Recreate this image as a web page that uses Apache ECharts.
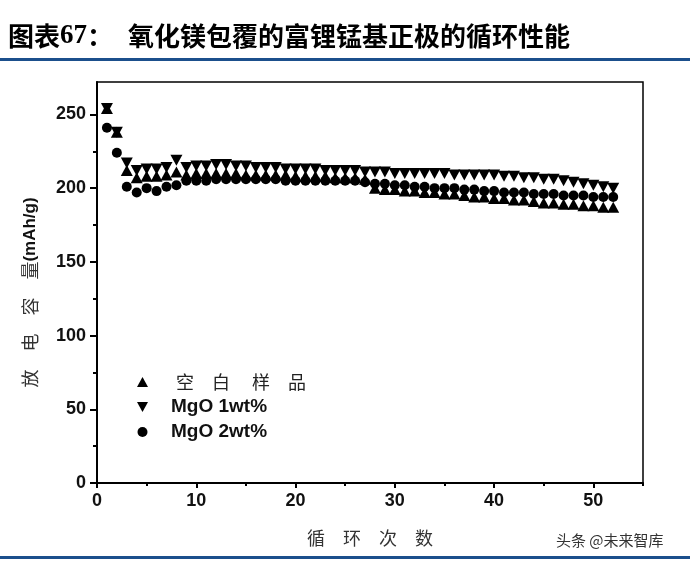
<!DOCTYPE html>
<html>
<head>
<meta charset="utf-8">
<script src="https://cdn.jsdelivr.net/npm/echarts@6/dist/echarts.min.js"></script>
<style>
html,body{margin:0;padding:0;background:#fff;}
#chart{width:700px;height:567px;}
</style>
</head>
<body>
<div id="chart"></div>
<script>
// ---- data ----
const cycles = [1,2,3,4,5,6,7,8,9,10,11,12,13,14,15,16,17,18,19,20,21,22,23,24,25,26,
  27,28,29,30,31,32,33,34,35,36,37,38,39,40,41,42,43,44,45,46,47,48,49,50,51,52];
const blank = [254,238,212,207,208,208,209,211,209,210,
  210,210,210,210,209,209,209,209,209,208,
  208,208,208,207,207,207,206,200,199,199,
  198,198,197,197,196,196,195,194,194,193,
  193,192,192,191,190,190,189,189,188,188,187,187];
const mgo1 = [254,238,217,212,213,213,214,219,214,215,
  215,216,216,215,215,214,214,214,213,213,
  213,213,212,212,212,212,211,211,211,210,
  210,210,210,210,210,209,209,209,209,209,
  208,208,207,207,206,206,205,204,203,202,201,200];
const mgo2 = [241,224,201,197,200,198,201,202,205,205,
  205,206,206,206,206,206,206,206,205,205,
  205,205,205,205,205,205,204,203,203,202,
  202,201,201,200,200,200,199,199,198,198,
  197,197,197,196,196,196,195,195,195,194,194,194];
const seriesNames = ['空白样品', 'MgO 1wt%', 'MgO 2wt%'];
const xMajorTicks = [0,10,20,30,40,50];
const xMinorTicks = [5,15,25,35,45,55];
const yMajorTicks = [0,50,100,150,200,250];
const yMinorTicks = [25,75,125,175,225];

const zip = (xs, ys) => xs.map((x, i) => [x, ys[i]]);

const labelStyle = {fontFamily:'Liberation Sans', fontWeight:'bold', fontSize:18, color:'#111'};
const downTri = 'path://M0,0L10,0L5,9Z';
const markStyle = {color:'#000', opacity:1};

const chart = echarts.init(document.getElementById('chart'), null, {renderer:'canvas'});
chart.setOption({
  animation:false,
  backgroundColor:'#fff',
  grid:{left:97, right:57, top:82, bottom:84, show:true, borderColor:'#000', borderWidth:1.5},
  xAxis:[{
    type:'value', min:0, max:55,
    axisLine:{onZero:false, lineStyle:{color:'#000', width:2}},
    axisTick:{customValues:xMajorTicks, length:5, lineStyle:{color:'#000', width:2}},
    axisLabel:Object.assign({customValues:xMajorTicks, margin:9}, labelStyle),
    splitLine:{show:false},
    name:'循　环　次　数', nameLocation:'middle', nameGap:46,
    nameTextStyle:{fontFamily:'Noto Sans CJK SC', fontSize:18, color:'#333'}
  },{
    type:'value', min:0, max:55, position:'bottom',
    axisLine:{show:false},
    axisTick:{customValues:xMinorTicks, length:3, lineStyle:{color:'#000', width:2}},
    axisLabel:{show:false}, splitLine:{show:false}
  }],
  yAxis:[{
    type:'value', min:0, max:272,
    axisLine:{onZero:false, lineStyle:{color:'#000', width:2}},
    axisTick:{customValues:yMajorTicks, length:7, lineStyle:{color:'#000', width:2}},
    axisLabel:Object.assign({customValues:yMajorTicks, margin:11}, labelStyle),
    splitLine:{show:false},
    name:'{cn|放　电　容　量}{en|(mAh/g)}', nameLocation:'middle', nameGap:58,
    nameTextStyle:{padding:[0,20,0,0], rich:{
      cn:{fontFamily:'Noto Sans CJK SC', fontSize:18, color:'#333'},
      en:{fontFamily:'Liberation Sans', fontWeight:'bold', fontSize:17, color:'#111'}
    }}
  },{
    type:'value', min:0, max:272, position:'left',
    axisLine:{show:false},
    axisTick:{customValues:yMinorTicks, length:4, lineStyle:{color:'#000', width:2}},
    axisLabel:{show:false}, splitLine:{show:false}
  }],
  legend:{
    orient:'vertical', left:132, top:367, itemWidth:11, itemHeight:10, itemGap:5,
    data:[{name:seriesNames[0], icon:'triangle'},{name:seriesNames[1], icon:downTri},{name:seriesNames[2], icon:'circle'}],
    formatter:function(n){ return n === seriesNames[0] ? '{cn|空　白 　样　品}' : '{en|' + n + '}'; },
    textStyle:{lineHeight:20, rich:{
      cn:{fontFamily:'Noto Sans CJK SC', fontSize:18, color:'#222', padding:[0,0,0,23], lineHeight:20},
      en:{fontFamily:'Liberation Sans', fontWeight:'bold', fontSize:19, color:'#111', padding:[0,0,0,18], lineHeight:20}
    }}
  },
  series:[
    {name:seriesNames[2], type:'scatter', symbol:'circle', symbolSize:10, itemStyle:markStyle, data:zip(cycles, mgo2)},
    {name:seriesNames[0], type:'scatter', symbol:'triangle', symbolSize:[12,11], itemStyle:markStyle, data:zip(cycles, blank)},
    {name:seriesNames[1], type:'scatter', symbol:downTri, symbolSize:[12,11], itemStyle:markStyle, data:zip(cycles, mgo1)}
  ],
  graphic:[
    {type:'text', left:8, top:23, style:{
      text:'{a|图表}{b|67}{a|：}',
      rich:{
        a:{fontFamily:'Noto Sans CJK SC', fontWeight:'bold', fontSize:26, fill:'#000'},
        b:{fontFamily:'Liberation Serif', fontWeight:'bold', fontSize:27, fill:'#000'}
      }}},
    {type:'text', left:128, top:23, style:{text:'氧化镁包覆的富锂锰基正极的循环性能', fontFamily:'Noto Sans CJK SC', fontWeight:'bold', fontSize:26, fill:'#000'}},
    {type:'rect', shape:{x:0, y:58, width:690, height:3}, style:{fill:'#1b4f8c'}},
    {type:'rect', shape:{x:0, y:556, width:690, height:3}, style:{fill:'#1b4f8c'}},
    {type:'text', left:556, top:533, style:{text:'头条 @未来智库', fontFamily:'Noto Sans CJK SC', fontSize:15, fill:'#333'}}
  ]
});
</script>
</body>
</html>
